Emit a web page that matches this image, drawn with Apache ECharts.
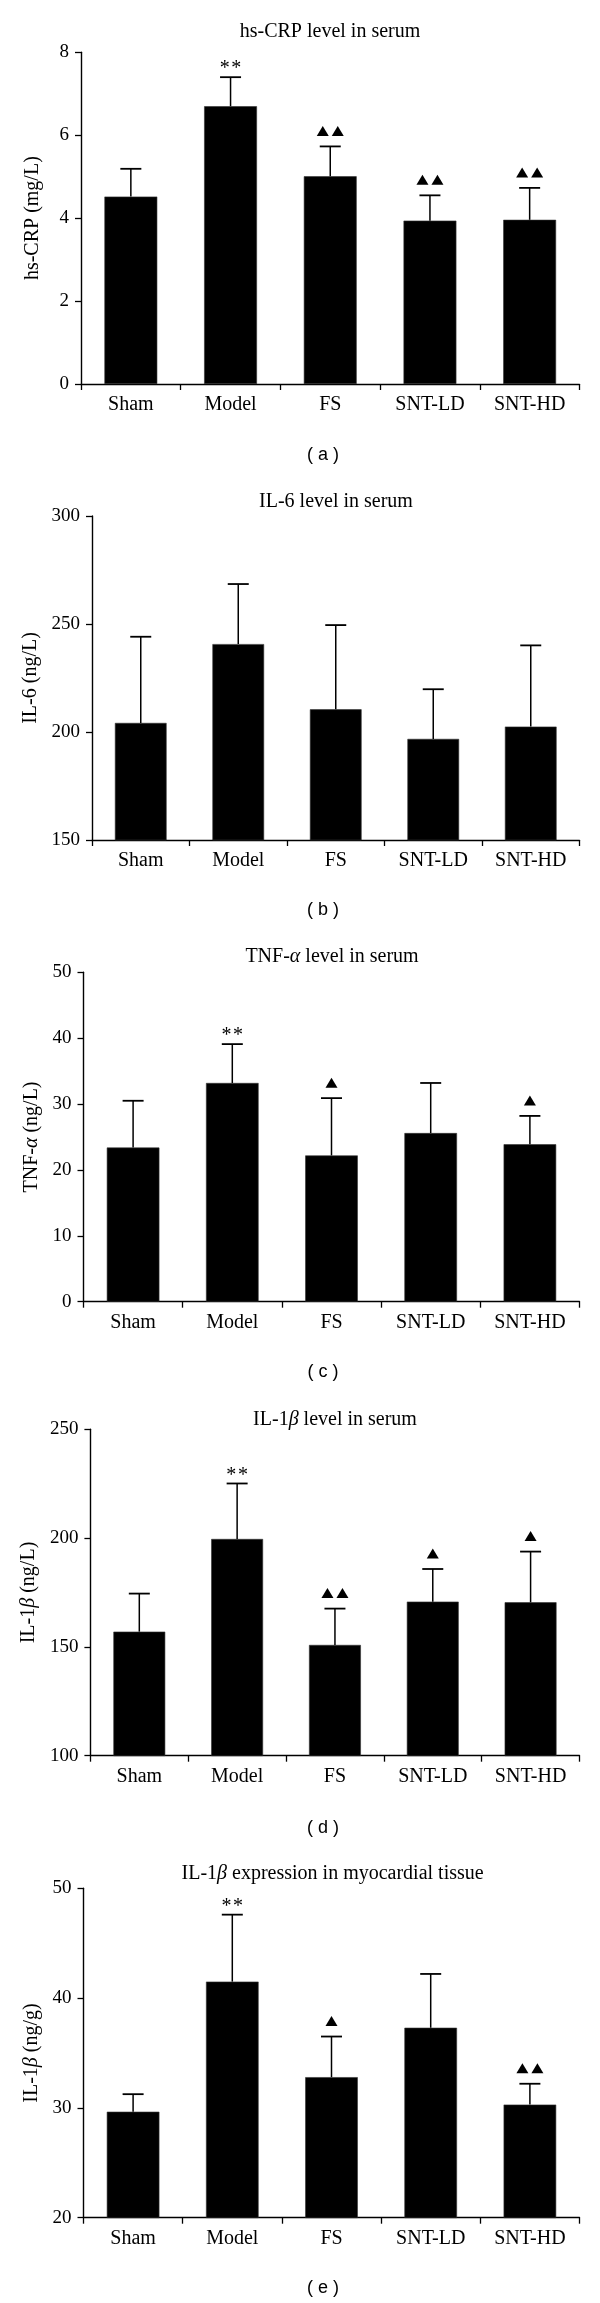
<!DOCTYPE html>
<html>
<head>
<meta charset="utf-8">
<script src="https://cdn.jsdelivr.net/npm/echarts@6/dist/echarts.min.js"></script>
<style>
html,body{margin:0;padding:0;background:#fff;}
#chart{width:600px;height:2303px;}
</style>
</head>
<body>
<div id="chart"></div>
<script>
// ---- data ----
const categories = ['Sham', 'Model', 'FS', 'SNT-LD', 'SNT-HD'];

const crpMean = [4.52, 6.70, 5.01, 3.94, 3.96];
const crpErr  = [0.67, 0.70, 0.72, 0.61, 0.77];
const crpMarks = ['', '**', '▲▲', '▲▲', '▲▲'];

const il6Mean = [204.2, 240.7, 210.5, 196.8, 202.5];
const il6Err  = [39.9, 27.8, 39.0, 23.0, 37.6];
const il6Marks = ['', '', '', '', ''];

const tnfMean = [23.4, 33.2, 22.2, 25.6, 23.9];
const tnfErr  = [7.1, 5.9, 8.7, 7.6, 4.3];
const tnfMarks = ['', '**', '▲', '', '▲'];

const il1bMean = [157.0, 199.6, 150.9, 170.8, 170.5];
const il1bErr  = [17.5, 25.5, 16.7, 15.0, 23.3];
const il1bMarks = ['', '**', '▲▲', '▲', '▲'];

const il1bTisMean = [29.65, 41.5, 32.8, 37.3, 30.3];
const il1bTisErr  = [1.6, 6.1, 3.7, 4.9, 1.9];
const il1bTisMarks = ['', '**', '▲', '', '▲▲'];

const panelTitles = [
  'hs-CRP level in serum',
  'IL-6 level in serum',
  'TNF-{i|α} level in serum',
  'IL-1{i|β} level in serum',
  'IL-1{i|β} expression in myocardial tissue'
];
const yNames = ['hs-CRP (mg/L)', 'IL-6 (ng/L)', 'TNF-{i|α} (ng/L)', 'IL-1{i|β} (ng/L)', 'IL-1{i|β} (ng/g)'];
const subLabels = ['( a )', '( b )', '( c )', '( d )', '( e )'];
const yMin = [0, 150, 0, 100, 20];
const yMax = [8, 300, 50, 250, 50];
const yInterval = [2, 50, 10, 50, 10];

// ---- layout ----
const means = [crpMean, il6Mean, tnfMean, il1bMean, il1bTisMean];
const errs = [crpErr, il6Err, tnfErr, il1bErr, il1bTisErr];
const marks = [crpMarks, il6Marks, tnfMarks, il1bMarks, il1bTisMarks];

const gridLeft = [81, 92, 83.5, 90.4, 83.5];
const gridTop = [52.3, 516, 972.3, 1429.3, 1888.3];
const gridH = [331.7, 324, 329.4, 326.4, 329.4];
const gridRightX = 579.5;
const nameGaps = [38, 49, 41, 48, 41];
const titleX = [330, 336, 332, 335, 332.6];
const titleY = [32, 501.7, 956.7, 1420, 1873.3];
const subY = [455, 910, 1372, 1828, 2288];

const SERIF = '"Liberation Serif", "Times New Roman", serif';
const INK = '#000';
const italicRich = {i: {fontFamily: SERIF, fontStyle: 'italic', fontSize: 20, color: INK}};

const grids = [], xAxes = [], yAxes = [], series = [], titles = [];
for (let p = 0; p < 5; p++) {
  grids.push({left: gridLeft[p], top: gridTop[p], width: gridRightX - gridLeft[p], height: gridH[p], containLabel: false});
  xAxes.push({
    type: 'category', gridIndex: p, data: categories,
    axisLine: {lineStyle: {color: '#000', width: 1.4}},
    axisTick: {show: true, length: 6, lineStyle: {color: '#000', width: 1.3}},
    axisLabel: {fontFamily: SERIF, fontSize: 20, color: INK, margin: 11}
  });
  yAxes.push({
    type: 'value', gridIndex: p, min: yMin[p], max: yMax[p], interval: yInterval[p],
    splitLine: {show: false},
    axisLine: {show: true, lineStyle: {color: '#000', width: 1.4}},
    axisTick: {show: true, length: 6, lineStyle: {color: '#000', width: 1.3}},
    axisLabel: {fontFamily: SERIF, fontSize: 19, color: INK, margin: 12},
    name: yNames[p], nameLocation: 'middle', nameGap: nameGaps[p],
    nameTextStyle: {fontFamily: SERIF, fontSize: 20, color: INK, rich: italicRich}
  });
  series.push({
    type: 'bar', xAxisIndex: p, yAxisIndex: p, data: means[p],
    barWidth: '53%', itemStyle: {color: '#000', borderColor: '#333', borderWidth: 0.6},
    silent: true, animation: false
  });
  const pm = marks[p];
  series.push({
    type: 'custom', xAxisIndex: p, yAxisIndex: p,
    data: means[p].map((v, i) => [i, v, errs[p][i]]),
    animation: false, silent: true, z: 5,
    renderItem: function (params, api) {
      const i = api.value(0), v = api.value(1), e = api.value(2);
      const base = api.coord([i, v]);
      const top = api.coord([i, v + e]);
      const cx = base[0];
      const children = [
        {type: 'line', shape: {x1: cx, y1: base[1], x2: cx, y2: top[1]}, style: {stroke: '#000', lineWidth: 1.5}},
        {type: 'line', shape: {x1: cx - 10.5, y1: top[1], x2: cx + 10.5, y2: top[1]}, style: {stroke: '#000', lineWidth: 1.8}}
      ];
      const m = pm[i];
      if (m === '**') {
        [-5.8, 5.8].forEach(function (dx) {
          children.push({type: 'text', style: {text: '*', x: cx + dx, y: top[1] + 2, textAlign: 'center', textVerticalAlign: 'bottom',
            fontFamily: SERIF, fontSize: 20, fill: INK}});
        });
      } else if (m && m[0] === '▲') {
        const n = m.length, w = 12, gap = 3, h = 10;
        const total = n * w + (n - 1) * gap;
        const x0 = cx - total / 2;
        const yb = top[1] - 10.5;
        for (let k = 0; k < n; k++) {
          const xl = x0 + k * (w + gap);
          children.push({type: 'polygon', shape: {points: [[xl, yb], [xl + w, yb], [xl + w / 2, yb - h]]}, style: {fill: '#000'}});
        }
      }
      return {type: 'group', children: children};
    }
  });
  titles.push({
    text: panelTitles[p], left: titleX[p], top: titleY[p] - 11, textAlign: 'center', padding: 0,
    textStyle: {fontFamily: SERIF, fontSize: 20, fontWeight: 'normal', color: INK, lineHeight: 22, rich: italicRich}
  });
  titles.push({
    text: subLabels[p], left: 323, top: subY[p] - 10, textAlign: 'center', padding: 0,
    textStyle: {fontFamily: '"Liberation Sans", Arial, sans-serif', fontSize: 18, fontWeight: 'normal', color: INK, lineHeight: 20}
  });
}

const chart = echarts.init(document.getElementById('chart'), null, {renderer: 'canvas'});
chart.setOption({
  backgroundColor: '#fff',
  animation: false,
  title: titles,
  grid: grids,
  xAxis: xAxes,
  yAxis: yAxes,
  series: series
});
</script>
</body>
</html>
